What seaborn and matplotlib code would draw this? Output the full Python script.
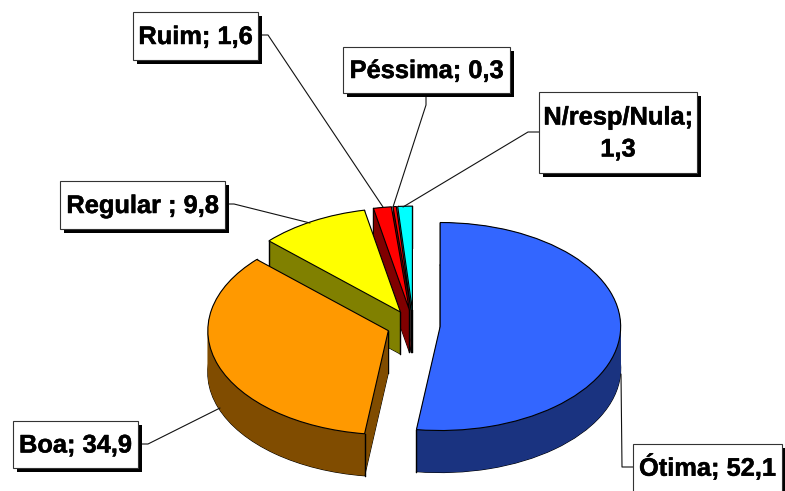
import numpy as np
import matplotlib
matplotlib.use('Agg')
import matplotlib.pyplot as plt
import matplotlib.patheffects as pe
from matplotlib.patches import Rectangle
import seaborn as sns

categories = ['Ótima', 'Boa', 'Regular', 'Ruim', 'Péssima', 'N/resp/Nula']
values = [52.1, 34.9, 9.8, 1.6, 0.3, 1.3]
label_texts = ['Ótima; 52,1', 'Boa; 34,9', 'Regular ; 9,8', 'Ruim; 1,6',
               'Péssima; 0,3', 'N/resp/Nula;\n1,3']
top_colors = ['#3366FF', '#FF9900', '#FFFF00', '#FF0000', '#FF0000', '#00FFFF']
side_colors = ['#1A3380', '#804C00', '#808000', '#800000', '#800000', '#008080']

# label boxes in pixels: left, top, right, bottom
boxes = [(633, 444, 782, 500), (13, 421, 138, 468), (60, 181, 225, 229),
         (133, 12, 258, 60), (343, 47, 510, 93), (539, 92, 697, 173)]
leaders = [[(633, 467), (622, 467), (621, 374)],
           [(138, 444), (148, 444), (220, 408)],
           [(225, 204), (234, 204), (310, 223)],
           [(258, 35), (268, 35), (383, 207)],
           [(426, 93), (426, 105), (393, 207)],
           [(539, 132), (528, 132), (403, 207)]]

W, H = 785, 491
cx, cy, rx, ry = 413.5, 325.5, 180.5, 104
depth_px = 42
explode = [0.148] * len(values)

sns.set_theme(style='white')
plt.rcParams['font.family'] = ['Liberation Sans', 'DejaVu Sans']

fig = plt.figure(figsize=(W / 100, H / 100), dpi=100, facecolor='white')
ax = fig.add_axes([0, 0, 1, 1])
pal_top = sns.color_palette(top_colors)
pal_side = sns.color_palette(side_colors)


def draw_layer(colors, offset, z, **props):
    wedges, _ = ax.pie(values, explode=explode, colors=colors, startangle=90,
                       counterclock=False, radius=1, center=(0, -offset),
                       wedgeprops=props)
    for w in wedges:
        w.set_zorder(z)
    return wedges


# bottom outline, then the side built up layer by layer
draw_layer(pal_side, depth_px / ry, 1, edgecolor='black', linewidth=0.8)
for i in range(depth_px, -1, -1):
    z = 2 + (depth_px - i)
    wedges = draw_layer(pal_side, i / ry, z, linewidth=0)
    xs, ys = [], []
    for w in wedges:
        c = w.center
        angles = [w.theta1, w.theta2]
        for a in (180, 360):
            if w.theta1 < a < w.theta2:
                angles.append(a)
        xs.append(c[0])
        ys.append(c[1])
        for a in angles:
            xs.append(c[0] + np.cos(np.radians(a)))
            ys.append(c[1] + np.sin(np.radians(a)))
    ax.plot(xs, ys, 'o', ms=1.1, mew=0, color='black', zorder=z + 0.5)

# top face
draw_layer(pal_top, 0, depth_px + 5, edgecolor='black', linewidth=0.8)

ax.set_aspect('auto')
ax.set_xlim((0 - cx) / rx, (W - cx) / rx)
ax.set_ylim((cy - H) / ry, cy / ry)

# overlay in pixel coordinates for the labels
over = fig.add_axes([0, 0, 1, 1], facecolor='none')
over.set_xlim(0, W)
over.set_ylim(H, 0)
over.axis('off')

for pts in leaders:
    over.plot([p[0] for p in pts], [p[1] for p in pts], color='#111111', lw=0.8)

for (x0, y0, x1, y1), txt in zip(boxes, label_texts):
    over.add_patch(Rectangle((x0 + 4, y0 + 4), x1 - x0, y1 - y0, fc='black', ec='none', zorder=3))
    over.add_patch(Rectangle((x0, y0), x1 - x0, y1 - y0, fc='white', ec='#333333', lw=0.8, zorder=4))
    ym = (y0 + y1) / 2 + 1 if y1 <= H else y0 + 23
    t = over.text((x0 + x1) / 2, ym, txt, ha='center', va='center', fontsize=18.3,
                  fontweight='bold', color='black', zorder=5, linespacing=1.42)
    t.set_path_effects([pe.withStroke(linewidth=0.35, foreground='black')])

fig.savefig('out.png', dpi=100, facecolor='white')
